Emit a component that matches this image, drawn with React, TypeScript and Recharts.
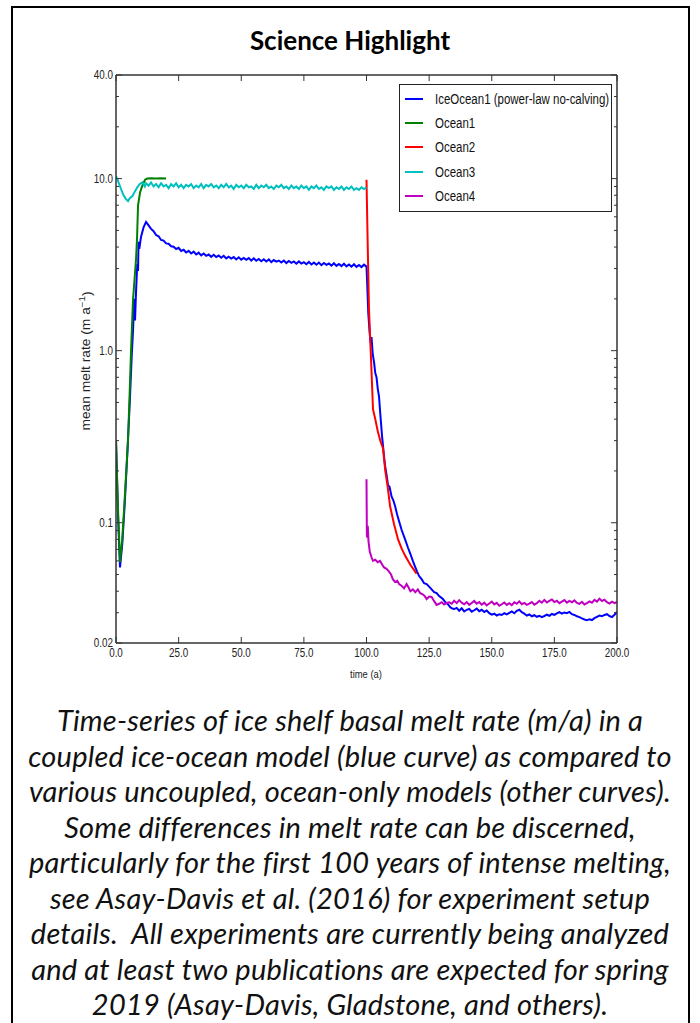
import React from 'react';
import { LineChart, Line, XAxis, YAxis, Legend } from 'recharts';

// ---------- axis ticks ----------
const X_TICKS = [0, 25, 50, 75, 100, 125, 150, 175, 200];
const X_TICK_LABELS = ['0.0', '25.0', '50.0', '75.0', '100.0', '125.0', '150.0', '175.0', '200.0'];
const Y_MAJOR = [0.02, 0.1, 1, 10, 40];
const Y_MAJOR_LABELS = ['0.02', '0.1', '1.0', '10.0', '40.0'];
const Y_MINOR = [0.03, 0.04, 0.05, 0.06, 0.07, 0.08, 0.09, 0.2, 0.3, 0.4, 0.5, 0.6, 0.7, 0.8, 0.9, 2, 3, 4, 5, 6, 7, 8, 9, 20, 30];

// ---------- series: [time (a), mean melt rate (m/a)] ----------
const ICE_OCEAN1: [number, number][] = [
  [0, 0.3], [0.8, 0.11], [1.6, 0.055], [2.5, 0.075], [3.5, 0.13], [4.5, 0.25], [5.5, 0.5], [6.3, 0.95], [6.8, 1.3],
  [7.3, 2.0], [7.6, 1.5], [8.0, 2.2], [8.5, 3.2], [8.8, 2.9], [9.0, 4.3], [9.3, 3.9], [10, 4.6], [11, 5.2],
  [12, 5.6], [13, 5.35], [14, 5.1], [15, 4.95], [16, 4.7], [17, 4.62], [18, 4.4], [19, 4.36], [20, 4.2],
  [21, 4.18], [22, 4.04], [23, 4.02], [24, 3.9], [25, 3.96], [26, 3.8], [27, 3.86], [28, 3.72], [29, 3.8],
  [30, 3.67], [31, 3.76], [32, 3.62], [33, 3.71], [34, 3.58], [35, 3.67], [36, 3.56], [37, 3.62], [38, 3.51],
  [39, 3.61], [40, 3.5], [41, 3.57], [42, 3.47], [43, 3.56], [44, 3.44], [45, 3.52], [46, 3.43], [47, 3.5],
  [48, 3.39], [49, 3.49], [50, 3.38], [51, 3.46], [52, 3.37], [53, 3.45], [54, 3.34], [55, 3.44], [56, 3.33],
  [57, 3.41], [58, 3.31], [59, 3.4], [60, 3.3], [61, 3.39], [62, 3.27], [63, 3.36], [64, 3.29], [65, 3.34],
  [66, 3.25], [67, 3.34], [68, 3.23], [69, 3.32], [70, 3.24], [71, 3.3], [72, 3.2], [73, 3.3], [74, 3.21],
  [75, 3.27], [76, 3.18], [77, 3.28], [78, 3.17], [79, 3.25], [80, 3.16], [81, 3.25], [82, 3.14], [83, 3.23],
  [84, 3.15], [85, 3.21], [86, 3.12], [87, 3.22], [88, 3.11], [89, 3.19], [90, 3.1], [91, 3.2], [92, 3.09],
  [93, 3.17], [94, 3.08], [95, 3.18], [96, 3.07], [97, 3.15], [98, 3.06], [99, 3.16], [100, 3.08],
  [100.3, 2.4], [100.7, 1.66], [101.2, 1.3], [101.6, 1.12], [102, 1.2], [102.5, 0.95], [103, 0.86], [103.5, 0.74],
  [104, 0.7], [104.5, 0.6], [105, 0.54], [105.5, 0.43], [106.2, 0.32], [106.8, 0.26], [107.4, 0.215], [108, 0.19],
  [108.6, 0.165], [109.2, 0.162], [110, 0.142], [110.7, 0.135], [111.4, 0.125], [112.2, 0.112], [113, 0.102],
  [114, 0.091], [115.4, 0.08], [116.5, 0.072], [117.5, 0.066], [118.5, 0.06], [119.3, 0.056], [120.2, 0.052],
  [121, 0.049], [122, 0.047], [123, 0.0445], [124, 0.044], [125, 0.0425], [126, 0.041], [127, 0.0395], [128, 0.039],
  [129, 0.0375], [130.5, 0.036], [131.5, 0.0345], [132.5, 0.0336], [133.5, 0.0322], [134.5, 0.0316],
  [135, 0.0315], [136, 0.032], [137, 0.0308], [138, 0.0318], [139, 0.0305], [140, 0.0312], [141, 0.0316],
  [142, 0.0304], [143, 0.031], [144, 0.0317], [145, 0.0306], [146, 0.0312], [147, 0.0303], [148, 0.0309],
  [149, 0.0298], [150, 0.0292], [151, 0.0296], [152, 0.0289], [153, 0.0294], [154, 0.0291], [155, 0.0298],
  [156, 0.0293], [157, 0.0299], [158, 0.0305], [159, 0.0298], [160, 0.0308], [161, 0.0312], [162, 0.0302],
  [163, 0.0296], [164, 0.0289], [165, 0.0293], [166, 0.0286], [167, 0.029], [168, 0.0284], [169, 0.0288],
  [170, 0.0283], [171, 0.0287], [172, 0.0292], [173, 0.0288], [174, 0.0295], [175, 0.0291], [176, 0.0297],
  [177, 0.0302], [178, 0.0296], [179, 0.0301], [180, 0.0298], [181, 0.0303], [182, 0.0294], [183, 0.0291],
  [184, 0.0286], [185, 0.0283], [186, 0.0278], [187, 0.0274], [188, 0.0271], [189, 0.0275], [190, 0.0272],
  [191, 0.0279], [192, 0.0284], [193, 0.0289], [194, 0.0286], [195, 0.0291], [196, 0.0294], [197, 0.0287],
  [198, 0.0283], [199, 0.0292], [200, 0.0303],
];

const OCEAN1: [number, number][] = [
  [0, 0.3], [0.8, 0.12], [1.6, 0.059], [2.5, 0.08], [3.5, 0.14], [4.8, 0.3], [5.4, 0.54], [6.0, 1.0], [6.8, 1.98],
  [7.4, 2.6], [8.0, 3.4], [8.4, 4.5], [8.8, 7.0], [9.6, 8.3], [10.5, 9.1], [11.6, 9.85], [12.5, 10.0], [14, 10.05],
  [16, 10.0], [18, 10.05], [20, 10.0],
];

const OCEAN2: [number, number][] = [
  [100, 9.85], [100.5, 4.0], [101, 1.73], [101.8, 0.9], [102.6, 0.456], [103.5, 0.4], [104.5, 0.34], [105.5, 0.3],
  [106.6, 0.27], [107.5, 0.2], [108.5, 0.16], [109.4, 0.125], [111, 0.098], [112.6, 0.08], [114, 0.071],
  [115.5, 0.064], [117.5, 0.057], [119, 0.053], [120, 0.0505],
];

const OCEAN3: [number, number][] = [
  [0, 10.3], [0.5, 10.0], [1, 9.5], [2, 8.7], [3, 8.0], [4, 7.6], [4.8, 7.4], [5.5, 7.7], [6.5, 7.9], [7.5, 8.4],
  [8.5, 8.9], [9.5, 9.3], [10.5, 9.5], [11.5, 9.0], [12, 9.4], [13, 9.1], [14, 9.5], [15, 9.0], [16, 9.3],
  [17, 8.9], [18, 9.4], [19, 9.0], [20, 9.2], [21, 8.8], [22, 9.3], [23, 9.0], [24, 9.4], [25, 8.9], [26, 9.2],
  [27, 8.8], [28, 9.2], [29, 9.0], [30, 9.3], [31, 8.8], [32, 9.1], [33, 8.9], [34, 9.3], [35, 8.8], [36, 9.2],
  [37, 9.0], [38, 9.3], [39, 8.9], [40, 9.1], [41, 8.8], [42, 9.2], [43, 8.9], [44, 9.3], [45, 8.9], [46, 9.1],
  [47, 8.7], [48, 9.2], [49, 8.9], [50, 9.1], [51, 8.8], [52, 9.2], [53, 8.9], [54, 9.0], [55, 8.7], [56, 9.2],
  [57, 8.8], [58, 9.1], [59, 8.9], [60, 9.2], [61, 8.8], [62, 9.0], [63, 8.7], [64, 9.1], [65, 8.9], [66, 9.2],
  [67, 8.8], [68, 9.0], [69, 8.7], [70, 9.1], [71, 8.8], [72, 9.0], [73, 8.7], [74, 9.1], [75, 8.8], [76, 9.0],
  [77, 8.6], [78, 9.0], [79, 8.8], [80, 9.1], [81, 8.7], [82, 8.9], [83, 8.6], [84, 9.0], [85, 8.8], [86, 9.0],
  [87, 8.6], [88, 8.9], [89, 8.7], [90, 9.0], [91, 8.6], [92, 8.9], [93, 8.7], [94, 9.0], [95, 8.6], [96, 8.8],
  [97, 8.6], [98, 8.9], [99, 8.7], [100, 8.9],
];

const OCEAN4: [number, number][] = [
  [100, 0.179], [100.15, 0.085], [100.3, 0.082], [100.5, 0.096], [100.8, 0.078], [101.3, 0.068], [102, 0.063],
  [102.6, 0.06], [103.5, 0.061], [104.5, 0.059], [105.4, 0.06], [106.3, 0.057], [107, 0.055], [108, 0.054],
  [109, 0.052], [109.8, 0.05], [110.5, 0.047], [111.4, 0.0453], [112.3, 0.046], [113, 0.044], [114, 0.043],
  [115, 0.0415], [116, 0.044], [116.8, 0.042], [117.5, 0.04], [118.5, 0.041], [119.5, 0.0395], [120.5, 0.041],
  [121.4, 0.039], [122.3, 0.0385], [123.2, 0.0375], [124, 0.036], [125, 0.0372], [126, 0.037], [127, 0.035],
  [128, 0.0333], [129, 0.0338], [130, 0.0345], [131, 0.0335], [132, 0.0342], [133, 0.0345], [134, 0.0338],
  [135, 0.0352], [136, 0.0341], [137, 0.0355], [138, 0.0343], [139, 0.0336], [140, 0.0346], [141, 0.0333],
  [142, 0.0342], [143, 0.0351], [144, 0.0338], [145, 0.0346], [146, 0.0334], [147, 0.0343], [148, 0.0331],
  [149, 0.0339], [150, 0.0348], [151, 0.0335], [152, 0.0342], [153, 0.0329], [154, 0.0336], [155, 0.0344],
  [156, 0.0333], [157, 0.0341], [158, 0.0332], [159, 0.0345], [160, 0.0338], [161, 0.0349], [162, 0.0336],
  [163, 0.0342], [164, 0.0333], [165, 0.0339], [166, 0.0346], [167, 0.0334], [168, 0.0341], [169, 0.0352],
  [170, 0.0343], [171, 0.0356], [172, 0.0344], [173, 0.0351], [174, 0.0358], [175, 0.0346], [176, 0.0352],
  [177, 0.0341], [178, 0.0348], [179, 0.0355], [180, 0.0343], [181, 0.0351], [182, 0.0345], [183, 0.0354],
  [184, 0.0342], [185, 0.0338], [186, 0.0347], [187, 0.0335], [188, 0.0341], [189, 0.0349], [190, 0.0343],
  [191, 0.0356], [192, 0.0348], [193, 0.0362], [194, 0.0351], [195, 0.0357], [196, 0.0345], [197, 0.0339],
  [198, 0.0348], [199, 0.0341], [200, 0.0346],
];

const SERIES_NAMES = ['IceOcean1 (power-law no-calving)', 'Ocean1', 'Ocean2', 'Ocean3', 'Ocean4'];
const SERIES_COLORS = ['#0000ff', '#008000', '#ff0000', '#00bfbf', '#bf00bf'];
const SERIES_DATA = [ICE_OCEAN1, OCEAN1, OCEAN2, OCEAN3, OCEAN4];

const TITLE = 'Science Highlight';
const X_LABEL = 'time (a)';
const CAPTION = [
  'Time-series of ice shelf basal melt rate (m/a) in a',
  'coupled ice-ocean model (blue curve) as compared to',
  'various uncoupled, ocean-only models (other curves).',
  'Some differences in melt rate can be discerned,',
  'particularly for the first 100 years of intense melting,',
  'see Asay-Davis et al. (2016) for experiment setup',
  'details.  All experiments are currently being analyzed',
  'and at least two publications are expected for spring',
  '2019 (Asay-Davis, Gladstone, and others).',
];

const AXIS = '#333';
const SANS = "'Liberation Sans', Arial, sans-serif";
const NARROW_SCALE = 0.82;
const Y_TICKS = [...Y_MAJOR, ...Y_MINOR].sort((a, b) => a - b);

const series = SERIES_NAMES.map((name, i) => ({
  name,
  color: SERIES_COLORS[i],
  data: SERIES_DATA[i].map(([t, v]) => ({ t, v })),
}));

const NarrowText = ({ x, y, anchor, size, children }: any) => (
  <text
    transform={`translate(${x} ${y}) scale(${NARROW_SCALE} 1)`}
    x={0}
    y={0}
    textAnchor={anchor}
    dominantBaseline="central"
    fontSize={size}
    fontFamily={SANS}
    fill="#222"
  >
    {children}
  </text>
);

const LeftTick = (props: any) => {
  const { x, y, payload } = props;
  const i = Y_MAJOR.indexOf(payload.value);
  const major = i >= 0;
  return (
    <g>
      <line x1={x} y1={y} x2={x + (major ? 6 : 3)} y2={y} stroke={AXIS} strokeWidth={1} />
      {major && (
        <NarrowText x={x - 3} y={y} anchor="end" size={12}>
          {Y_MAJOR_LABELS[i]}
        </NarrowText>
      )}
    </g>
  );
};

const RightTick = (props: any) => {
  const { x, y, payload } = props;
  const major = Y_MAJOR.indexOf(payload.value) >= 0;
  return <line x1={x} y1={y} x2={x - (major ? 6 : 3)} y2={y} stroke={AXIS} strokeWidth={1} />;
};

const BottomTick = (props: any) => {
  const { x, y, payload } = props;
  const i = X_TICKS.indexOf(payload.value);
  return (
    <g>
      <line x1={x} y1={y} x2={x} y2={y - 6} stroke={AXIS} strokeWidth={1} />
      <NarrowText x={x} y={y + 10} anchor="middle" size={12}>
        {X_TICK_LABELS[i]}
      </NarrowText>
    </g>
  );
};

const TopTick = (props: any) => {
  const { x, y } = props;
  return <line x1={x} y1={y} x2={x} y2={y + 6} stroke={AXIS} strokeWidth={1} />;
};

const renderLegend = (props: any) => {
  const payload: any[] = props.payload && props.payload.length ? props.payload : series.map((s) => ({ value: s.name, color: s.color }));
  const ordered = SERIES_NAMES.map((n) => payload.find((p) => p.value === n)).filter(Boolean);
  return (
    <div
      style={{
        width: 213,
        height: 128,
        border: '1.5px solid #222',
        background: '#fff',
        boxSizing: 'border-box',
        position: 'relative',
      }}
    >
      {ordered.map((p: any, i: number) => (
        <div
          key={p.value}
          style={{ position: 'absolute', left: 0, top: 4 + i * 24.2, height: 20, display: 'flex', alignItems: 'center' }}
        >
          <div style={{ marginLeft: 5, width: 18, height: 2, background: p.color }} />
          <span
            style={{
              marginLeft: 12,
              fontFamily: SANS,
              fontSize: 14,
              color: '#111',
              whiteSpace: 'nowrap',
              display: 'inline-block',
              transform: `scaleX(${NARROW_SCALE})`,
              transformOrigin: 'left center',
            }}
          >
            {p.value}
          </span>
        </div>
      ))}
    </div>
  );
};

export default function App() {
  return (
    <div style={{ position: 'absolute', left: 0, top: 0, width: 700, height: 1023, background: '#fff', overflow: 'hidden' }}>
      <div
        style={{
          position: 'absolute',
          left: 11,
          top: 6,
          width: 679,
          height: 1060,
          border: '2px solid #000',
          boxSizing: 'border-box',
        }}
      />
      <div
        style={{
          position: 'absolute',
          left: 0,
          top: 24,
          width: 700,
          textAlign: 'center',
          fontFamily: "Lato, 'Open Sans', sans-serif",
          fontWeight: 700,
          fontSize: 26,
          lineHeight: '32px',
          color: '#000',
        }}
      >
        {TITLE}
      </div>
      <div style={{ position: 'absolute', left: 0, top: 0 }}>
        <LineChart width={700} height={700} margin={{ top: 74, right: 73, bottom: 27, left: 56 }}>
          <XAxis
            xAxisId="bottom"
            dataKey="t"
            type="number"
            domain={[0, 200]}
            allowDataOverflow
            ticks={X_TICKS}
            interval={0}
            height={30}
            tickSize={0}
            tickMargin={0}
            tickLine={false}
            axisLine={{ stroke: AXIS, strokeWidth: 1.5 }}
            tick={BottomTick}
          />
          <XAxis
            xAxisId="top"
            orientation="top"
            dataKey="t"
            type="number"
            domain={[0, 200]}
            allowDataOverflow
            ticks={X_TICKS}
            interval={0}
            height={1}
            tickSize={0}
            tickMargin={0}
            tickLine={false}
            axisLine={{ stroke: AXIS, strokeWidth: 1.5 }}
            tick={TopTick}
          />
          <YAxis
            yAxisId="left"
            type="number"
            scale="log"
            domain={[0.02, 40]}
            allowDataOverflow
            ticks={Y_TICKS}
            interval={0}
            width={60}
            tickSize={0}
            tickMargin={0}
            tickLine={false}
            axisLine={{ stroke: AXIS, strokeWidth: 1.5 }}
            tick={LeftTick}
          />
          <YAxis
            yAxisId="right"
            orientation="right"
            type="number"
            scale="log"
            domain={[0.02, 40]}
            allowDataOverflow
            ticks={Y_TICKS}
            interval={0}
            width={10}
            tickSize={0}
            tickMargin={0}
            tickLine={false}
            axisLine={{ stroke: AXIS, strokeWidth: 1.5 }}
            tick={RightTick}
          />
          {series.map((s) => (
            <Line
              key={s.name}
              name={s.name}
              data={s.data}
              dataKey="v"
              xAxisId="bottom"
              yAxisId="left"
              type="linear"
              stroke={s.color}
              strokeWidth={2}
              dot={false}
              activeDot={false}
              isAnimationActive={false}
            />
          ))}
          <Legend
            layout="horizontal"
            verticalAlign="middle"
            align="center"
            content={renderLegend}
            wrapperStyle={{ left: 399, top: 84, width: 213, height: 128 }}
          />
        </LineChart>
      </div>
      <svg width={700} height={700} style={{ position: 'absolute', left: 0, top: 0, pointerEvents: 'none' }}>
        <text
          transform="translate(86 361) rotate(-90) scale(1.15 1)"
          x={0}
          y={0}
          textAnchor="middle"
          dominantBaseline="central"
          fontSize={12}
          fontFamily={SANS}
          fill="#222"
        >
          mean melt rate (m a
          <tspan fontSize={8.5} dy={-4}>−1</tspan>
          <tspan dy={4}>)</tspan>
        </text>
        <NarrowText x={366} y={674} anchor="middle" size={11.5}>
          {X_LABEL}
        </NarrowText>
      </svg>
      <div
        style={{
          position: 'absolute',
          left: 0,
          top: 702,
          width: 700,
          textAlign: 'center',
          fontFamily: "Lato, 'Open Sans', sans-serif",
          fontStyle: 'italic',
          fontSize: 29,
          letterSpacing: 0.2,
          lineHeight: '35.5px',
          color: '#111',
          whiteSpace: 'pre',
        }}
      >
        {CAPTION.map((line) => (
          <div key={line}>{line}</div>
        ))}
      </div>
    </div>
  );
}
